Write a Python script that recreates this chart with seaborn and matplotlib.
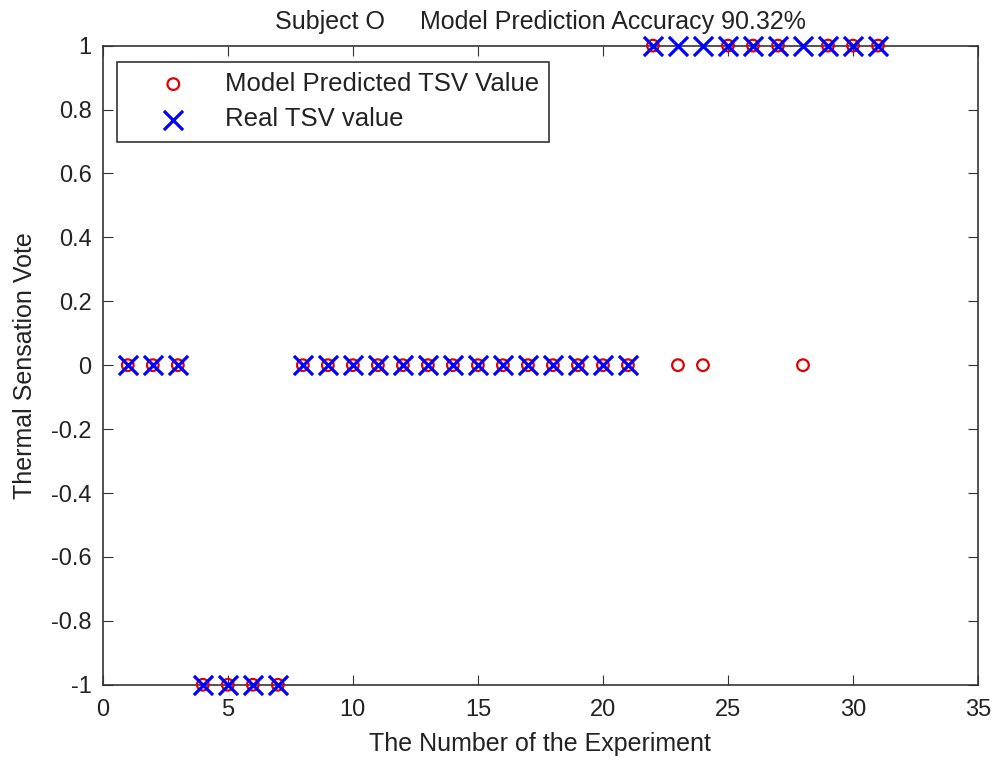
import matplotlib as mpl
import matplotlib.pyplot as plt
import seaborn as sns
import numpy as np
import pandas as pd

experiment = list(range(1, 32))
predicted_tsv = [0, 0, 0, -1, -1, -1, -1,
                 0, 0, 0, 0, 0, 0, 0, 0, 0, 0, 0, 0, 0, 0,
                 1, 0, 0, 1, 1, 1, 0, 1, 1, 1]
real_tsv = [0, 0, 0, -1, -1, -1, -1,
            0, 0, 0, 0, 0, 0, 0, 0, 0, 0, 0, 0, 0, 0,
            1, 1, 1, 1, 1, 1, 1, 1, 1, 1]
yticks = [-1, -0.8, -0.6, -0.4, -0.2, 0, 0.2, 0.4, 0.6, 0.8, 1]
ytick_labels = ['-1', '-0.8', '-0.6', '-0.4', '-0.2', '0', '0.2', '0.4', '0.6', '0.8', '1']

df = pd.DataFrame({'exp': experiment, 'pred': predicted_tsv, 'real': real_tsv})

sns.set_style("white")
plt.rcParams['font.family'] = ['Liberation Sans', 'DejaVu Sans']

fig = plt.figure(figsize=(9.98, 7.6), dpi=100)
ax = fig.add_axes([0.103, 0.099, 0.877, 0.841])

sns.scatterplot(x='exp', y='pred', data=df, ax=ax, marker='o', s=70,
                facecolors='none', edgecolor='#e00000', linewidth=1.6,
                label='Model Predicted TSV Value', clip_on=False, zorder=3)
sns.scatterplot(x='exp', y='real', data=df, ax=ax, marker='x', s=190,
                color='#0000ff', linewidth=2.3,
                label='Real TSV value', clip_on=False, zorder=4)

ax.set_xlim(0, 35)
ax.set_ylim(-1, 1)
ax.set_xticks([0, 5, 10, 15, 20, 25, 30, 35])
ax.set_yticks(yticks)
ax.set_yticklabels(ytick_labels)
ax.tick_params(direction='in', length=7, labelsize=17, left=True, bottom=True,
               top=True, right=True, color='#333333', labelcolor='#222222')
ax.tick_params(axis='x', pad=10)
ax.tick_params(axis='y', pad=8)
for sp in ax.spines.values():
    sp.set_color('#333333')
    sp.set_linewidth(1.2)

ax.set_xlabel('The Number of the Experiment', fontsize=18, color='#222222', labelpad=8)
ax.set_ylabel('Thermal Sensation Vote', fontsize=18, color='#222222', labelpad=10)
ax.set_title('Subject O     Model Prediction Accuracy 90.32%', fontsize=18,
             color='#222222', pad=12)

leg = ax.legend(loc='upper left', bbox_to_anchor=(0.016, 0.975), fontsize=18.5,
                frameon=True, fancybox=False, edgecolor='black', borderpad=0.4,
                handletextpad=0.2, handlelength=3.6, labelspacing=0.45, borderaxespad=0)
leg.get_frame().set_linewidth(1.2)
for t in leg.get_texts():
    t.set_color('#222222')

plt.savefig('out.png', dpi=100)
